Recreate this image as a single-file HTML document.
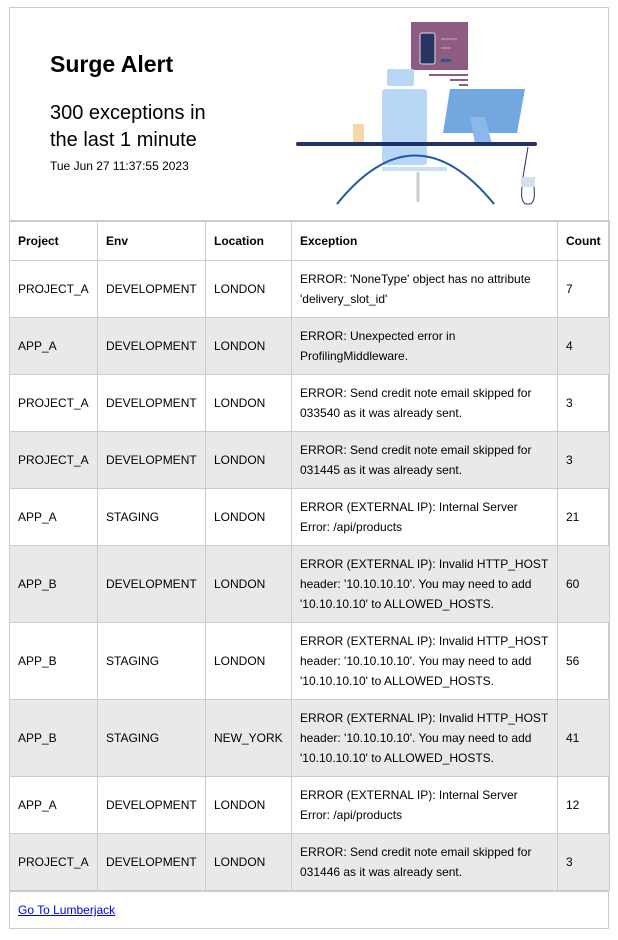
<!DOCTYPE html>
<html><head><meta charset="utf-8"><style>
*{box-sizing:border-box}
body{margin:0;width:618px;height:940px;background:#fff;font-family:"Liberation Sans",Arial,sans-serif;color:#000;position:relative;overflow:hidden}
#box{position:absolute;left:9px;top:7px;width:600px;height:922px;border:1px solid #ccc}
#hdr{position:absolute;left:9px;top:7px;width:600px;height:215px}
h1{position:absolute;left:41px;top:44px;margin:0;font-size:23px;font-weight:bold}
.sub{position:absolute;left:41px;top:93px;font-size:20px;line-height:27px;margin:0}
.date{position:absolute;left:41px;top:152px;font-size:12px}
table{position:absolute;left:9px;top:220px;width:600px;border-collapse:collapse;table-layout:fixed;font-size:12px}
td,th{border:1px solid #ccc;padding:0 8px;text-align:left;vertical-align:middle;line-height:20px}
th{height:39px;font-weight:bold;border-top:2px solid #ccc}
tr.r2 td{height:57px}tr.r3 td{height:77px}
tr.g td{background:#e9e9e9}
#foot{position:absolute;left:9px;top:890px;width:600px;height:39px;border-top:2px solid #ccc;padding:11px 9px;font-size:12px}
#foot a{color:#0000ee;text-decoration:underline}
</style></head><body>
<div id="box"></div>
<div id="hdr">
<h1>Surge Alert</h1>
<p class="sub">300 exceptions in<br>the last 1 minute</p>
<div class="date">Tue Jun 27 11:37:55 2023</div>
<svg style="position:absolute;left:261px;top:0" width="340" height="210" viewBox="0 0 340 210">
<rect x="141" y="15" width="57" height="48" fill="#8e5c82"/>
<rect x="150" y="26" width="15" height="31" rx="2" fill="#2a3366" stroke="#ddd"/>
<line x1="171" y1="32" x2="187" y2="32" stroke="#c9a9c0"/><line x1="171" y1="41" x2="181" y2="41" stroke="#c9a9c0"/>
<rect x="171" y="52" width="10" height="3" fill="#2a5a8a"/>
<rect x="159" y="67" width="39" height="2" fill="#8e5c82"/><rect x="180" y="72" width="18" height="2" fill="#8e5c82"/><rect x="189" y="77" width="9" height="2" fill="#8e5c82"/>
<rect x="117" y="62" width="27" height="17" rx="2" fill="#b8d7f7"/>
<rect x="112" y="82" width="45" height="76" rx="3" fill="#b8d7f7"/>
<rect x="112" y="160" width="65" height="4" fill="#c8e0f8"/>
<polygon points="180,82 255,82 247,126 173,126" fill="#72a7e0"/>
<polygon points="200,110 215,110 222,137 205,137" fill="#8ab8e8"/>
<rect x="83" y="117" width="11" height="19" fill="#f5d7a8"/>
<rect x="26" y="135" width="241" height="4" rx="2" fill="#22306a"/>
<path d="M67 197 Q145 100 224 197" fill="none" stroke="#1d5aa0" stroke-width="2"/>
<line x1="148" y1="165" x2="148" y2="195" stroke="#ccc" stroke-width="3"/>
<rect x="251" y="170" width="14" height="10" fill="#cfe0ee"/>
<path d="M258 140 L253 170 M252 180 Q250 198 258 197 Q266 198 264 180" fill="none" stroke="#22306a"/>
</svg>
</div>
<table>
<colgroup><col style="width:88px"><col style="width:108px"><col style="width:86px"><col style="width:266px"><col style="width:52px"></colgroup>
<tr><th>Project</th><th>Env</th><th>Location</th><th>Exception</th><th>Count</th></tr>
<tr class="r2"><td>PROJECT_A</td><td>DEVELOPMENT</td><td>LONDON</td><td>ERROR: 'NoneType' object has no attribute 'delivery_slot_id'</td><td>7</td></tr>
<tr class="r2 g"><td>APP_A</td><td>DEVELOPMENT</td><td>LONDON</td><td>ERROR: Unexpected error in ProfilingMiddleware.</td><td>4</td></tr>
<tr class="r2"><td>PROJECT_A</td><td>DEVELOPMENT</td><td>LONDON</td><td>ERROR: Send credit note email skipped for 033540 as it was already sent.</td><td>3</td></tr>
<tr class="r2 g"><td>PROJECT_A</td><td>DEVELOPMENT</td><td>LONDON</td><td>ERROR: Send credit note email skipped for 031445 as it was already sent.</td><td>3</td></tr>
<tr class="r2"><td>APP_A</td><td>STAGING</td><td>LONDON</td><td>ERROR (EXTERNAL IP): Internal Server Error: /api/products</td><td>21</td></tr>
<tr class="r3 g"><td>APP_B</td><td>DEVELOPMENT</td><td>LONDON</td><td>ERROR (EXTERNAL IP): Invalid HTTP_HOST header: '10.10.10.10'. You may need to add '10.10.10.10' to ALLOWED_HOSTS.</td><td>60</td></tr>
<tr class="r3"><td>APP_B</td><td>STAGING</td><td>LONDON</td><td>ERROR (EXTERNAL IP): Invalid HTTP_HOST header: '10.10.10.10'. You may need to add '10.10.10.10' to ALLOWED_HOSTS.</td><td>56</td></tr>
<tr class="r3 g"><td>APP_B</td><td>STAGING</td><td>NEW_YORK</td><td>ERROR (EXTERNAL IP): Invalid HTTP_HOST header: '10.10.10.10'. You may need to add '10.10.10.10' to ALLOWED_HOSTS.</td><td>41</td></tr>
<tr class="r2"><td>APP_A</td><td>DEVELOPMENT</td><td>LONDON</td><td>ERROR (EXTERNAL IP): Internal Server Error: /api/products</td><td>12</td></tr>
<tr class="r2 g"><td>PROJECT_A</td><td>DEVELOPMENT</td><td>LONDON</td><td>ERROR: Send credit note email skipped for 031446 as it was already sent.</td><td>3</td></tr>
</table>
<div id="foot"><a href="#">Go To Lumberjack</a></div>
</body></html>
